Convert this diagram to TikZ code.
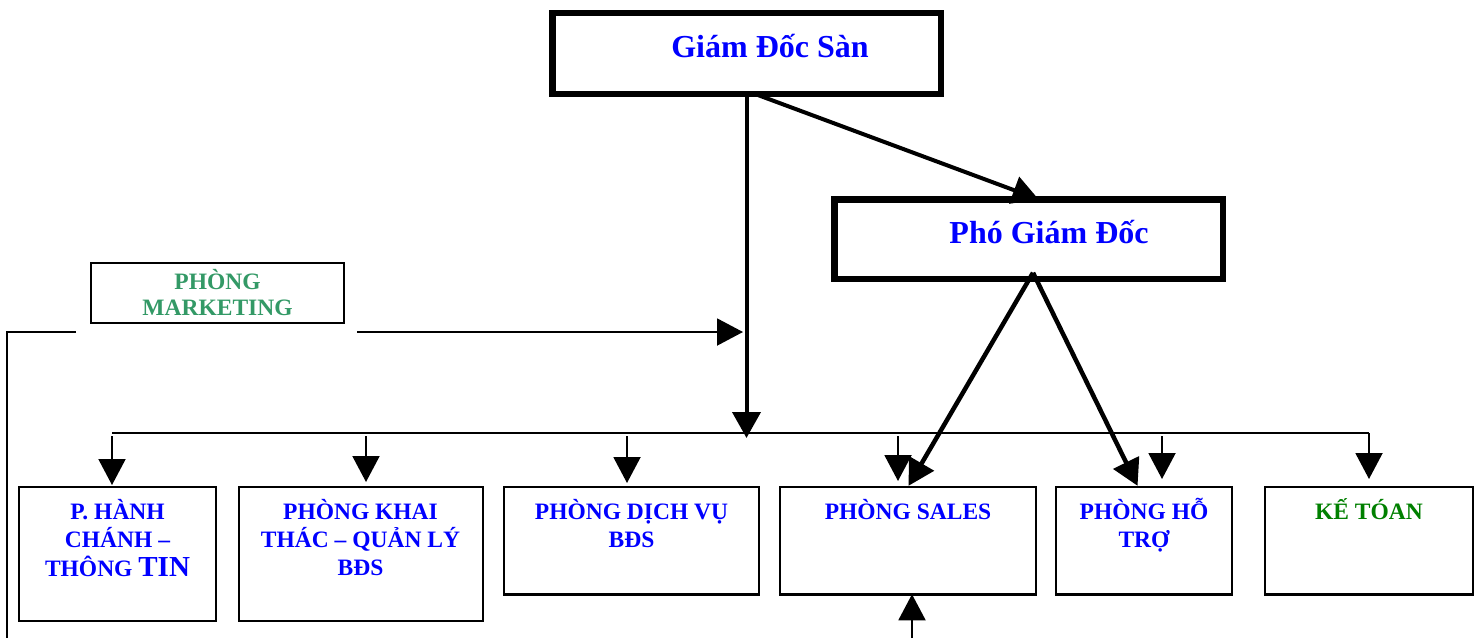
\documentclass[tikz,border=0pt]{standalone}
\usepackage{fontspec}
\setmainfont{Liberation Serif}
\usetikzlibrary{arrows.meta,calc}
\definecolor{vblue}{RGB}{0,0,255}
\definecolor{mgreen}{RGB}{51,153,102}
\definecolor{kgreen}{RGB}{0,128,0}
\newcommand\txtstack[1]{\begin{tabular}[t]{@{}c@{}}#1\end{tabular}}
\begin{document}
\begin{tikzpicture}[x=1pt,y=-1pt,
  bigbox/.style={draw, line width=6.5pt, inner sep=0pt, outer sep=0pt, anchor=north west},
  smallbox/.style={draw, line width=2.4pt, inner sep=0pt, outer sep=0pt, anchor=north west},
  titletext/.style={font=\fontsize{32}{36}\selectfont\bfseries, text=vblue, inner sep=0pt, anchor=base},
  depttext/.style={font=\fontsize{23.5}{28}\selectfont\bfseries, text=vblue, inner sep=0pt, anchor=base},
  lineA/.style={line width=2pt},
  lineB/.style={line width=4pt},
  lineC/.style={line width=4.5pt},
  tipA/.style={-{Triangle[length=26pt,width=27pt]}},
  tipB/.style={-{Triangle[length=26pt,width=28pt]}}
]
\path[fill=white] (0,0) rectangle (1481,638);
\useasboundingbox (0,0) rectangle (1481,638);

% boxes
\node[bigbox, minimum width=388.5pt, minimum height=81pt] (gds) at (552.25,12.75) {};
\node[bigbox, minimum width=388.5pt, minimum height=79.5pt] (pgd) at (834.25,199.25) {};
\node[draw, line width=2pt, inner sep=0pt, outer sep=0pt, anchor=north west, minimum width=253pt, minimum height=60pt] (mkt) at (91,263) {};
\node[smallbox, minimum width=196.6pt, minimum height=134.1pt] (b1) at (19.2,486.7) {};
\node[smallbox, minimum width=243.6pt, minimum height=134.1pt] (b2) at (239.2,486.7) {};
\node[smallbox, minimum width=254.6pt, minimum height=107.6pt] (b3) at (504.2,486.7) {};
\node[smallbox, minimum width=255.6pt, minimum height=107.6pt] (b4) at (780.2,486.7) {};
\node[smallbox, minimum width=175.6pt, minimum height=107.6pt] (b5) at (1056.2,486.7) {};
\node[smallbox, minimum width=207.6pt, minimum height=107.6pt] (b6) at (1265.2,486.7) {};

% texts
\node[titletext] (tgds) at (770,57) {Giám Đốc Sàn};
\node[titletext] (tpgd) at (1049,243) {Phó Giám Đốc};
\node[depttext, text=mgreen, font=\fontsize{23.5}{26.7}\selectfont\bfseries] (tmkt) at (217.5,289) {\txtstack{PHÒNG\\MARKETING}};
\node[depttext] (tb1) at (117.5,519) {\txtstack{P. HÀNH\\CHÁNH –\\THÔNG {\fontsize{29}{28}\selectfont TIN}}};
\node[depttext] (tb2) at (360.5,519) {\txtstack{PHÒNG KHAI\\THÁC – QUẢN LÝ\\BĐS}};
\node[depttext] (tb3) at (631.5,519) {\txtstack{PHÒNG DỊCH VỤ\\BĐS}};
\node[depttext] (tb4) at (908,519) {PHÒNG SALES};
\node[depttext] (tb5) at (1144,519) {\txtstack{PHÒNG HỖ\\TRỢ}};
\node[depttext, text=kgreen] (tb6) at (1369,519) {KẾ TÓAN};

% coordinates
\coordinate (mj) at (746.5,438);
\coordinate (mv) at (743,332);
\coordinate (lc) at (7,332);
\coordinate (lb) at (7,638);
\coordinate (busL) at (112,433);
\coordinate (busR) at (1369,433);
\coordinate (d1) at (112,436);
\coordinate (d2) at (366,436);
\coordinate (d3) at (627,436);
\coordinate (d4) at (898,436);
\coordinate (d5) at (1162,436);
\coordinate (d6) at (1369,433);
\coordinate (ub) at (912,638);

% connectors
\draw[lineB, tipB] (gds.south) -- (mj);
\draw[lineB, tipB] ($(gds.south)+(8,0)$) -- ($(pgd.north)+(10,0)$);
\draw[lineA, tipA] ($(mkt.south east)+(13,9)$) -- (mv);
\draw[lineA] ($(mkt.south west)+(-15,9)$) -- (lc) -- (lb);
\draw[lineA] (busL) -- (busR);
\draw[lineA, tipA, shorten >=1.7pt] (d1) -- (d1 |- b1.north);
\draw[lineA, tipA, shorten >=4.7pt] (d2) -- (d2 |- b2.north);
\draw[lineA, tipA, shorten >=3.7pt] (d3) -- (d3 |- b3.north);
\draw[lineA, tipA, shorten >=5.7pt] (d4) -- (d4 |- b4.north);
\draw[lineA, tipA, shorten >=7.7pt] (d5) -- (d5 |- b5.north);
\draw[lineA, tipA, shorten >=7.7pt] (d6) -- (d6 |- b6.north);
\draw[lineC, tipB, shorten >=1pt] ($(pgd.south)+(4.5,-6)$) -- (b4.north);
\draw[lineC, tipB, shorten >=1pt] ($(pgd.south)+(4.5,-6)$) -- ($(b5.north)+(-6,0)$);
\draw[lineA, tipA] (ub) -- ($(b4.south)+(4,0)$);
\end{tikzpicture}
\end{document}
